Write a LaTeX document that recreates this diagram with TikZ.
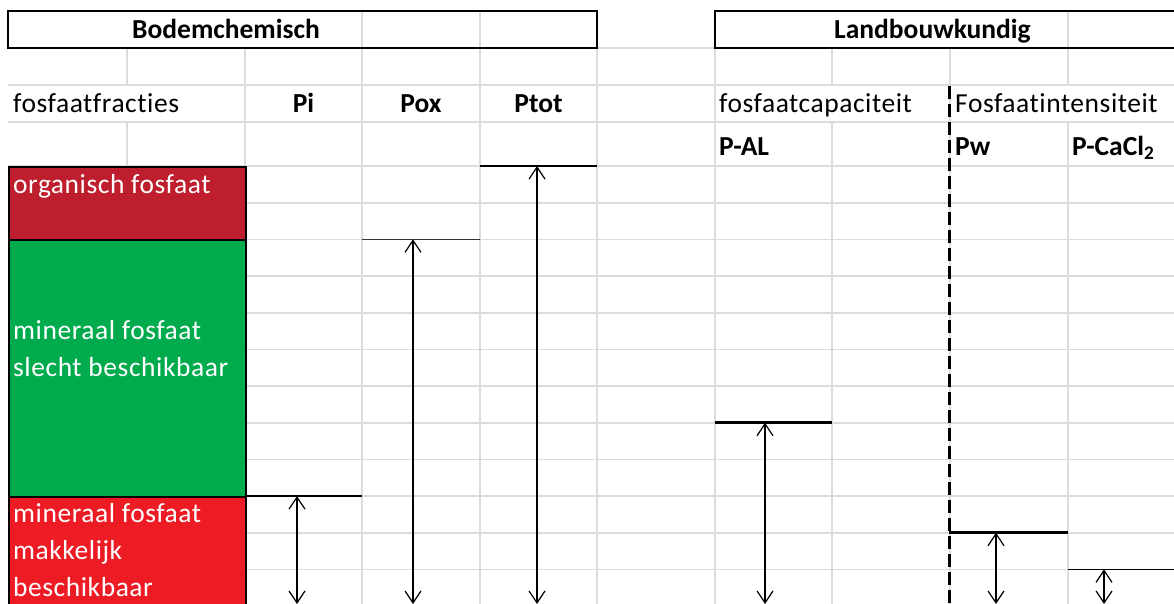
\documentclass[tikz,border=0pt]{standalone}
\usepackage{fontspec}
\setmainfont{Carlito}[Ligatures=NoCommon]
\newfontfamily\regfont{Carlito}[Ligatures=NoCommon,LetterSpace=2]
\usetikzlibrary{arrows.meta}
\definecolor{gridc}{HTML}{DCDCDC}
\definecolor{orgred}{HTML}{BE1E2D}
\definecolor{mingreen}{HTML}{00AB4E}
\definecolor{minred}{HTML}{ED1C24}
\begin{document}
\begin{tikzpicture}[x=1pt,y=-1pt,
  gridline/.style={draw=gridc,line width=1.6pt},
  txt/.style={font=\regfont\fontsize{27.5}{33}\selectfont,inner sep=0pt,anchor=base west},
  btxt/.style={txt,font=\fontsize{27.5}{33}\selectfont\bfseries},
  ctxt/.style={btxt,anchor=base},
  wtxt/.style={txt,text=white},
  hbox/.style={draw=black,line width=1.8pt},
  fbox/.style={draw=black,line width=1.5pt,anchor=north west,inner sep=0pt,minimum width=237pt},
  level/.style={draw=black,line width=2.6pt},
  thinlevel/.style={draw=black!80,line width=1.5pt},
  dimarrow/.style={draw=black,line width=1.2pt,{Straight Barb[length=12pt,width=16pt]}-{Straight Barb[length=12pt,width=16pt]}},
  sepline/.style={draw=black,line width=3pt,dash pattern=on 13pt off 5pt}
]
\useasboundingbox (0,0) rectangle (1174,603);
\clip (0,0) rectangle (1174,603);
% horizontal gridlines
\foreach \y in {48,85,122,166,202.7,239.3,276,312.7,349.3,386,422.7,459.3,496,532.7,569.3}
  \draw[gridline] (8,\y) -- (1180,\y);
% vertical gridlines
\foreach \x in {245,362,480,597,715,950}
  \draw[gridline] (\x,48) -- (\x,610);
\foreach \x in {127,832,1068}
  {\draw[gridline] (\x,48) -- (\x,85);
   \draw[gridline] (\x,122) -- (\x,610);}
\foreach \x in {362,480,1068}
  \draw[gridline] (\x,11) -- (\x,48);
% header boxes
\draw[hbox] (8,11) rectangle (597,48);
\draw[hbox] (1185,11) -- (715,11) -- (715,48) -- (1185,48);
\node[btxt] (bodem) at (132,38) {Bodemchemisch};
\node[btxt] (landbouw) at (834,38) {Landbouwkundig};
% column headings
\node[txt] (fract) at (13,112) {fosfaatfracties};
\node[ctxt] (pi) at (303.5,112) {Pi};
\node[ctxt] (pox) at (421,112) {Pox};
\node[ctxt] (ptot) at (538.5,112) {Ptot};
\node[txt] (cap) at (719,112) {fosfaatcapaciteit};
\node[txt] (int) at (955,112) {Fosfaatintensiteit};
\node[btxt] (pal) at (719,155) {P-AL};
\node[btxt] (pw) at (955,155) {Pw};
\node[btxt] (pcacl) at (1072,155) {P-CaCl\textsubscript{2}};
% fraction boxes
\node[fbox,fill=orgred,minimum height=73.3pt] (org) at (8,166) {};
\node[fbox,fill=mingreen,minimum height=256.7pt] (slecht) at (8,239.3) {};
\node[fbox,fill=minred,minimum height=120pt] (makk) at (8,496) {};
\node[wtxt] (orgt) at (13,193) {organisch fosfaat};
\node[wtxt] (sl1) at (13,339.5) {mineraal fosfaat};
\node[wtxt] (sl2) at (13,376) {slecht beschikbaar};
\node[wtxt] (mk1) at (13,522.7) {mineraal fosfaat};
\node[wtxt] (mk2) at (13,559.3) {makkelijk};
\node[wtxt] (mk3) at (13,596) {beschikbaar};
% levels
\draw[level] (245,496) -- (362,496);
\draw[thinlevel] (362,239.3) -- (480,239.3);
\draw[level,line width=2.2pt] (480,166) -- (597,166);
\draw[level] (715,422.7) -- (832,422.7);
\draw[level] (949,532.7) -- (1068,532.7);
\draw[thinlevel,draw=black] (1068,569.3) -- (1180,569.3);
% separator
\coordinate (dtop) at (949,86);
\coordinate (dbot) at (949,603);
\draw[sepline] (dtop) -- (dbot);
% arrows
\coordinate (pitop) at (297,496);   \coordinate (pibot) at (297,604);
\coordinate (poxtop) at (413,239.3); \coordinate (poxbot) at (413,604);
\coordinate (ptottop) at (537,166); \coordinate (ptotbot) at (537,604);
\coordinate (paltop) at (765,422.7); \coordinate (palbot) at (765,604);
\coordinate (pwtop) at (996,532.7); \coordinate (pwbot) at (996,604);
\coordinate (catop) at (1104,569.3); \coordinate (cabot) at (1104,604);
\draw[dimarrow] (pitop) -- (pibot);
\draw[dimarrow] (poxtop) -- (poxbot);
\draw[dimarrow] (ptottop) -- (ptotbot);
\draw[dimarrow] (paltop) -- (palbot);
\draw[dimarrow] (pwtop) -- (pwbot);
\draw[dimarrow] (catop) -- (cabot);
\end{tikzpicture}
\end{document}
